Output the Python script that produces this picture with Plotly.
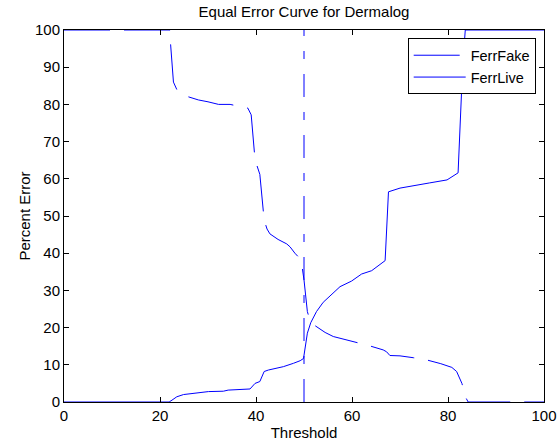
import plotly.graph_objects as go

# FerrFake curve (decreasing)
fake_x = [0, 22.0, 22.1, 22.3, 22.8, 23.5, 24.5, 26.0, 28.0, 30.0, 32.2, 34.6, 37.0, 38.3,
          39.0, 39.8, 40.8, 41.7, 42.3, 42.9, 44.6, 46.4, 47.1, 48.1, 49.2, 49.5, 50.0, 50.2,
          50.7, 51.4, 54.4, 56.1, 58.9, 62.0, 63.4, 66.5, 67.2, 67.9, 70.0, 72.8, 75.3, 78.5,
          80.8, 81.8, 82.9, 83.7, 84.2, 100]
fake_y = [100, 100, 98, 94, 86, 84, 82.7, 82, 81.2, 80.7, 80.0, 80.0, 79.4, 79.0,
          77.2, 65.1, 61.2, 48.9, 46.5, 45.2, 43.7, 42.5, 41.7, 40.0, 38.5, 37.3, 32.8, 30.1,
          24.3, 21.3, 18.7, 17.6, 16.7, 15.5, 15.2, 14.0, 13.5, 12.5, 12.4, 11.9, 11.4, 10.3,
          9.3, 8.2, 5.0, 1.2, 0, 0]

# FerrLive curve (increasing)
live_x = [0, 21.9, 22.5, 23.5, 24.9, 26.9, 29.0, 30.1, 33.2, 34.2, 38.75, 39.8, 40.8, 41.7,
          42.6, 45.7, 47.8, 49.2, 49.9, 50.7, 51.4, 52.6, 54.0, 55.4, 56.5, 57.5, 59.9, 62.0,
          64.1, 66.9, 67.6, 70.0, 76.2, 79.8, 82.1, 82.6, 83.05, 83.6, 100]
live_y = [0, 0, 0.5, 1.4, 2.0, 2.3, 2.5, 2.8, 2.9, 3.2, 3.5, 5.0, 5.5, 8.2,
          8.6, 9.5, 10.4, 11.1, 11.7, 18.5, 21.3, 24.3, 26.8, 28.5, 30.0, 31.0, 32.5, 34.4,
          35.3, 38.0, 56.5, 57.5, 58.9, 59.7, 61.6, 75.8, 90.1, 100, 100]

# Equal error threshold marker
eer_x = [50, 50]
eer_y = [0, 100]

x_ticks = [0, 20, 40, 60, 80, 100]
y_ticks = [0, 10, 20, 30, 40, 50, 60, 70, 80, 90, 100]

FONT = "Liberation Sans, Arial, Helvetica, sans-serif"
BLUE = "#0000ff"
FS = 15

fig = go.Figure()
fig.add_trace(go.Scatter(x=fake_x, y=fake_y, mode="lines", name="FerrFake",
                         line=dict(color=BLUE, width=1, dash="46px,14px")))
fig.add_trace(go.Scatter(x=live_x, y=live_y, mode="lines", name="FerrLive",
                         line=dict(color=BLUE, width=1)))
fig.add_trace(go.Scatter(x=eer_x, y=eer_y, mode="lines", showlegend=False,
                         line=dict(color=BLUE, width=1, dash="23px,15px,8px,15px")))

axis_common = dict(showline=True, linecolor="black", linewidth=1, mirror="ticks",
                   ticks="inside", ticklen=5, tickcolor="black", showgrid=False,
                   zeroline=False, automargin=False,
                   tickfont=dict(family=FONT, size=FS, color="black"))

fig.update_layout(
    width=559, height=444,
    margin=dict(l=64, r=15, t=30, b=42),
    paper_bgcolor="white", plot_bgcolor="white",
    font=dict(family=FONT, size=FS, color="black"),
    title=dict(text="Equal Error Curve for Dermalog", x=304 / 559, xanchor="center",
               y=1 - 12 / 444, yanchor="middle", yref="container",
               font=dict(family=FONT, size=FS, color="black")),
    xaxis=dict(range=[0, 100], tickvals=x_ticks,
               title=dict(text="Threshold", standoff=4,
                          font=dict(family=FONT, size=FS, color="black")),
               **axis_common),
    yaxis=dict(range=[0, 100], tickvals=y_ticks,
               title=dict(text="Percent Error", standoff=0,
                          font=dict(family=FONT, size=FS, color="black")),
               **axis_common),
    legend=dict(x=(407.7 - 64) / 480, y=(402 - 38.3) / 372, xanchor="left", yanchor="top",
                bgcolor="white", bordercolor="black", borderwidth=1,
                font=dict(family=FONT, size=14.5, color="black"),
                itemwidth=52),
    showlegend=True,
)

fig.write_html("out.html")
